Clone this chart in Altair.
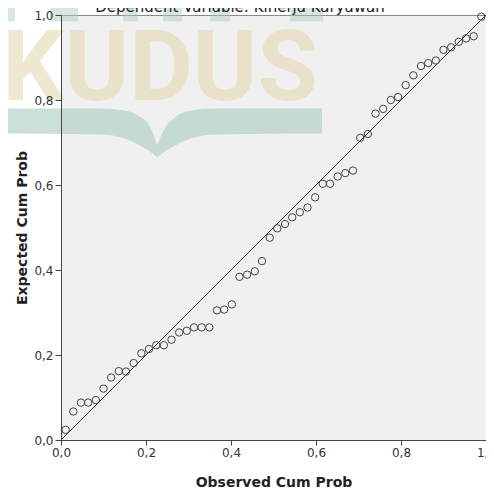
import altair as alt
import pandas as pd

# ---- data ----
observed = [0.011, 0.029, 0.047, 0.064, 0.082, 0.100, 0.118, 0.136, 0.153, 0.171,
            0.189, 0.207, 0.224, 0.242, 0.260, 0.278, 0.296, 0.313, 0.331, 0.349,
            0.367, 0.384, 0.402, 0.420, 0.438, 0.456, 0.473, 0.491, 0.509, 0.527,
            0.544, 0.562, 0.580, 0.598, 0.616, 0.633, 0.651, 0.669, 0.687, 0.704,
            0.722, 0.740, 0.758, 0.776, 0.793, 0.811, 0.829, 0.847, 0.864, 0.882,
            0.900, 0.918, 0.936, 0.953, 0.971, 0.989]
expected = [0.024, 0.067, 0.088, 0.088, 0.094, 0.121, 0.147, 0.162, 0.161, 0.181,
            0.204, 0.214, 0.223, 0.223, 0.236, 0.253, 0.257, 0.265, 0.265, 0.265,
            0.305, 0.307, 0.319, 0.384, 0.389, 0.397, 0.421, 0.476, 0.498, 0.508,
            0.524, 0.536, 0.547, 0.571, 0.603, 0.603, 0.620, 0.628, 0.634, 0.711,
            0.720, 0.768, 0.779, 0.800, 0.807, 0.835, 0.858, 0.880, 0.887, 0.893,
            0.918, 0.924, 0.937, 0.945, 0.950, 0.996]
ref_x = [0.0, 1.0]
ref_y = [0.0, 1.0]
tick_values = [0.0, 0.2, 0.4, 0.6, 0.8, 1.0]

title_text = "Dependent Variable: Kinerja Karyawan"
title_pos_x = [0.421]
title_pos_y = [1.008]
x_title = "Observed Cum Prob"
y_title = "Expected Cum Prob"

# ---- background watermark (in data units) ----
wm_word = "KUDUS"
wm_x = [0.233]
wm_y = [0.799]
wing_names = ["L"] * 6 + ["R"] * 6
wing_x = [-0.144, 0.092, 0.151, 0.186, 0.209, 0.226,
          0.226, 0.245, 0.268, 0.304, 0.362, 0.614]
wing_top = [0.780, 0.780, 0.775, 0.761, 0.738, 0.693,
            0.693, 0.735, 0.759, 0.775, 0.780, 0.780]
wing_bottom = [0.721, 0.719, 0.709, 0.693, 0.679, 0.665,
               0.665, 0.679, 0.693, 0.709, 0.719, 0.721]
block_x1 = [-0.144, -0.026, 0.146, 0.240, 0.351, 0.539]
block_x2 = [-0.108, 0.040, 0.181, 0.285, 0.398, 0.617]
block_y1 = [0.985] * 6
block_y2 = [1.040] * 6

points_df = pd.DataFrame({"obs": observed, "exp": expected})
ref_df = pd.DataFrame({"obs": ref_x, "exp": ref_y})
wing_df = pd.DataFrame({"wing": wing_names, "obs": wing_x, "top": wing_top, "bot": wing_bottom})
block_df = pd.DataFrame({"x1": block_x1, "x2": block_x2, "y1": block_y1, "y2": block_y2})
wm_df = pd.DataFrame({"obs": wm_x, "exp": wm_y, "t": [wm_word]})
title_df = pd.DataFrame({"obs": title_pos_x, "exp": title_pos_y, "t": [title_text]})

label_expr = "replace(format(datum.value, '.1f'), '.', ',')"
sc = alt.Scale(domain=[0, 1], nice=False, zero=False)
axis_x = alt.Axis(values=tick_values, labelExpr=label_expr, grid=False, tickSize=5,
                  labelPadding=2, labelFlush=False, labelOverlap=False, labelBound=False,
                  titleY=46, titleBaseline="alphabetic", zindex=1)
axis_y = alt.Axis(values=tick_values, labelExpr=label_expr, grid=False, tickSize=6,
                  labelPadding=2, labelFlush=False, labelOverlap=False,
                  titleX=-35, titleBaseline="alphabetic", zindex=1)


def X(field):
    return alt.X(field, type="quantitative", scale=sc, axis=axis_x, title=x_title)


def Y(field):
    return alt.Y(field, type="quantitative", scale=sc, axis=axis_y, title=y_title)


blocks = alt.Chart(block_df).mark_rect(color="#a9cdbd", opacity=0.45).encode(
    x=X("x1"), x2="x2", y=Y("y1"), y2="y2")

wings = alt.Chart(wing_df).mark_area(color="#a9cdbd", opacity=0.6, interpolate="monotone").encode(
    x=X("obs"), y=Y("top"), y2="bot", detail="wing:N")

wm = alt.Chart(wm_df).mark_text(font="Roboto", fontWeight="bold", fontSize=98,
                                color="#e6d9b2", opacity=0.6, align="center",
                                baseline="alphabetic").encode(
    x=X("obs"), y=Y("exp"), text="t:N")

line = alt.Chart(ref_df).mark_line(color="#333333", strokeWidth=1).encode(
    x=X("obs"), y=Y("exp"))

pts = alt.Chart(points_df).mark_point(shape="circle", filled=False, size=55,
                                      stroke="#444444", strokeWidth=1, opacity=1).encode(
    x=X("obs"), y=Y("exp"))

title = alt.Chart(title_df).mark_text(font="DejaVu Sans", fontSize=15, color="#222222",
                                      align="center", baseline="alphabetic").encode(
    x=X("obs"), y=Y("exp"), text="t:N")

chart = alt.layer(blocks, wings, wm, line, pts, title).properties(
    width=425, height=425,
    autosize=alt.AutoSizeParams(type="none"),
    padding={"left": 53, "top": 7, "right": 0, "bottom": 47},
    background="white",
).configure_view(
    fill="#f0f0f0", stroke="#8a8a8a", strokeWidth=1
).configure_axis(
    domainColor="#444444", tickColor="#444444", labelColor="#333333",
    labelFont="DejaVu Sans", labelFontSize=12,
    titleFont="DejaVu Sans", titleFontSize=14, titleFontWeight="bold", titleColor="#222222"
)

chart.save("out.html", embed_options={"renderer": "svg", "actions": False})
